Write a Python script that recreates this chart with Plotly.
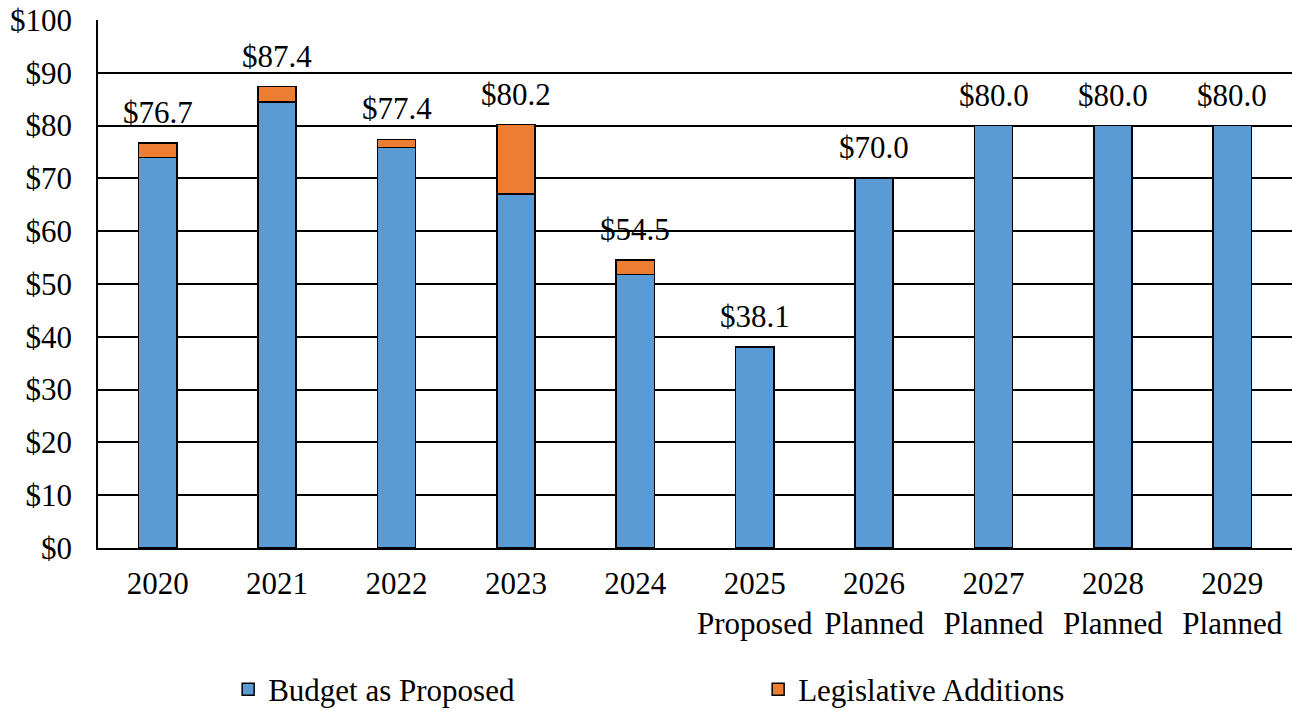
import plotly.graph_objects as go

categories = ["2020", "2021", "2022", "2023", "2024",
              "2025<br>Proposed", "2026<br>Planned", "2027<br>Planned",
              "2028<br>Planned", "2029<br>Planned"]
budget_as_proposed = [74.0, 84.5, 75.9, 67.0, 51.8, 38.1, 70.0, 80.0, 80.0, 80.0]
legislative_additions = [2.7, 2.9, 1.5, 13.2, 2.7, None, None, None, None, None]
totals = [76.7, 87.4, 77.4, 80.2, 54.5, 38.1, 70.0, 80.0, 80.0, 80.0]
y_ticks = [0, 10, 20, 30, 40, 50, 60, 70, 80, 90, 100]

FONT = "Liberation Serif, Times New Roman, serif"
FS = 31

fig = go.Figure()
fig.add_trace(go.Bar(
    x=categories, y=budget_as_proposed, name="Budget as Proposed",
    marker=dict(color="#5B9BD5", line=dict(color="black", width=1.5)),
))
fig.add_trace(go.Bar(
    x=categories, y=legislative_additions, name="Legislative Additions",
    marker=dict(color="#ED7D31", line=dict(color="black", width=1.5)),
))
# category index positions on the category axis
for i, v in enumerate(totals):
    fig.add_annotation(x=i, y=v, xref="x", yref="y", text=f"${v:.1f}",
                       showarrow=False, yanchor="bottom", yshift=11,
                       font=dict(family=FONT, size=FS, color="black"))

fig.update_layout(
    width=1292, height=711,
    margin=dict(l=98, r=0, t=20, b=163, autoexpand=False),
    barmode="stack", bargap=0.68,
    plot_bgcolor="white", paper_bgcolor="white",
    font=dict(family=FONT, size=FS, color="black"),
    legend=dict(orientation="h", x=0.109, xanchor="left", y=-0.268,
                yanchor="middle", entrywidth=485, entrywidthmode="pixels",
                font=dict(family=FONT, size=FS), traceorder="normal"),
    showlegend=True,
)
fig.update_yaxes(range=[0, 100], tickvals=y_ticks,
                 ticktext=[f"${v}" for v in y_ticks],
                 showgrid=True, gridcolor="black", gridwidth=1.5,
                 showline=True, linecolor="black", linewidth=1.5,
                 ticks="outside", ticklen=18, tickcolor="rgba(0,0,0,0)",
                 zeroline=False, automargin=False,
                 tickfont=dict(family=FONT, size=FS))
fig.update_xaxes(type="category", categoryorder="array", categoryarray=categories,
                 range=[-0.5, len(categories) - 0.5],
                 showline=True, linecolor="black", linewidth=1.5,
                 ticks="outside", ticklen=7, tickcolor="rgba(0,0,0,0)",
                 automargin=False,
                 tickfont=dict(family=FONT, size=FS), tickangle=0)

fig.write_html("out.html", config={"displayModeBar": False},
               post_script="document.body.style.margin='0';")
